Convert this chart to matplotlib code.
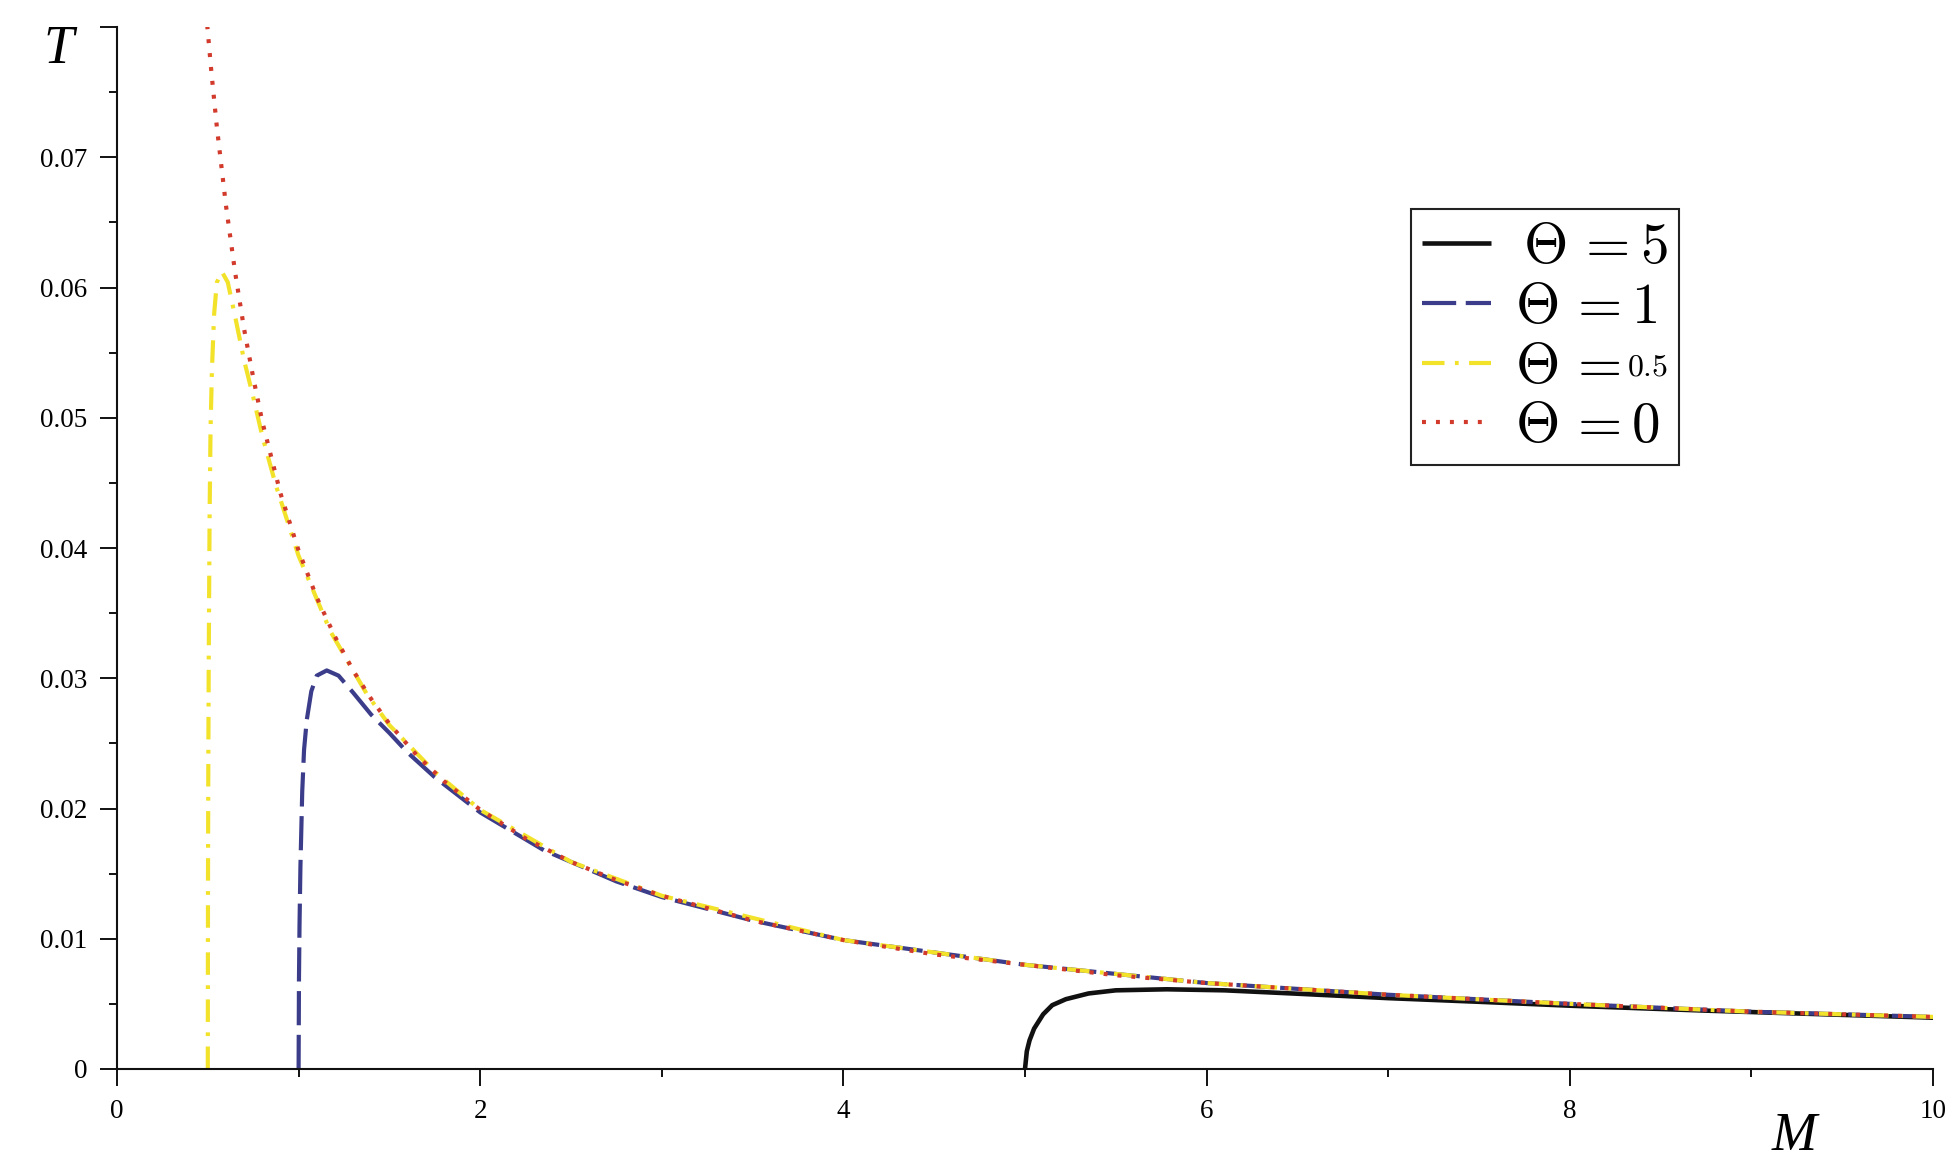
import matplotlib
matplotlib.use("Agg")
import matplotlib.pyplot as plt
from matplotlib.ticker import MultipleLocator

plt.rcParams['mathtext.fontset'] = 'cm'

# ---- data ----
M_theta5 = [5.0, 5.01, 5.025, 5.05, 5.1, 5.15, 5.225, 5.35, 5.5, 5.78, 6.1, 6.5,
            7.0, 7.5, 8.0, 8.75, 10.0]
T_theta5 = [0.0, 0.00136, 0.0022, 0.0031, 0.0042, 0.0049, 0.00536, 0.0058, 0.00604,
            0.00612, 0.00604, 0.00578, 0.00544, 0.00516, 0.00486, 0.00448, 0.00394]

M_theta1 = [1.0, 1.002, 1.005, 1.01, 1.02, 1.03, 1.045, 1.07, 1.1, 1.155, 1.22, 1.3,
            1.4, 1.5, 1.6, 1.75, 2.0, 2.35, 2.75, 3.0, 3.5, 4.0, 5.0, 6.0, 7.0, 8.0,
            9.0, 10.0]
T_theta1 = [0.0, 0.0068, 0.0110, 0.0155, 0.0213, 0.0245, 0.0268, 0.0290, 0.0302,
            0.0306, 0.0302, 0.0289, 0.0272, 0.0258, 0.0243, 0.0224, 0.0197, 0.0168,
            0.0144, 0.0132, 0.0114, 0.0099, 0.0080, 0.0066, 0.0057, 0.0050, 0.0044,
            0.0040]

M_theta05 = [0.5, 0.501, 0.5025, 0.505, 0.51, 0.515, 0.5225, 0.535, 0.55, 0.578,
             0.61, 0.65, 0.7, 0.75, 0.8, 0.875, 1.0, 1.175, 1.375, 1.5, 1.75, 2.0,
             2.5, 3.0, 4.0, 5.0, 6.0, 7.0, 8.0, 9.0, 10.0]
T_theta05 = [0.0, 0.0136, 0.022, 0.031, 0.0426, 0.049, 0.0536, 0.058, 0.0604, 0.0612,
             0.0604, 0.0578, 0.0544, 0.0516, 0.0486, 0.0448, 0.0394, 0.0336, 0.0288,
             0.0264, 0.0228, 0.0199, 0.0159, 0.0133, 0.0099, 0.0080, 0.0066, 0.0057,
             0.0050, 0.0044, 0.0040]

M_theta0 = [0.49, 0.52, 0.55, 0.6, 0.65, 0.7, 0.75, 0.8, 0.9, 1.0, 1.1, 1.2, 1.3, 1.4,
            1.5, 1.65, 1.8, 2.0, 2.25, 2.5, 2.75, 3.0, 3.5, 4.0, 4.5, 5.0, 5.5, 6.0,
            7.0, 8.0, 9.0, 10.0]
T_theta0 = [0.0812, 0.0765, 0.0723, 0.0663, 0.0612, 0.0568, 0.0531, 0.0497, 0.0442,
            0.0398, 0.0362, 0.0332, 0.0306, 0.0284, 0.0265, 0.0241, 0.0221, 0.0199,
            0.0177, 0.0159, 0.0145, 0.0133, 0.0114, 0.0099, 0.0088, 0.0080, 0.0072,
            0.0066, 0.0057, 0.0050, 0.0044, 0.0040]

x_major = [0, 2, 4, 6, 8, 10]
x_labels = ['0', '2', '4', '6', '8', '10']
y_major = [0, 0.01, 0.02, 0.03, 0.04, 0.05, 0.06, 0.07, 0.08]
y_labels = ['0', '0.01', '0.02', '0.03', '0.04', '0.05', '0.06', '0.07', '']

labels = [r'$\,\Theta\,= 5$', r'$\Theta\,= 1$', r'$\Theta\,=\qquad\;$',
          r'$\Theta\,= 0$']
small_value = '0.5'

# ---- figure ----
W, H = 1958, 1168
fig = plt.figure(figsize=(W / 100, H / 100), dpi=100)
ax = fig.add_axes([117 / W, 1 - 1069 / H, (1933 - 117) / W, (1069 - 27) / H])
ax.set_xlim(0, 10)
ax.set_ylim(0, 0.08)

lw = 3.0
l5, = ax.plot(M_theta5, T_theta5, color='#111111', lw=3.3, solid_capstyle='butt')
l1, = ax.plot(M_theta1, T_theta1, color='#3b3d8a', lw=lw, dashes=(8.2, 2.3),
              dash_capstyle='butt')
l05, = ax.plot(M_theta05, T_theta05, color='#f3e22a', lw=lw,
               dashes=(5.4, 2.5, 0.9, 2.5), dash_capstyle='butt')
l0, = ax.plot(M_theta0, T_theta0, color='#d23a2c', lw=lw, dashes=(0.95, 2.4),
              dash_capstyle='butt')

for s in ['top', 'right']:
    ax.spines[s].set_visible(False)
for s in ['left', 'bottom']:
    ax.spines[s].set_linewidth(1.5)
    ax.spines[s].set_color('#111111')

ax.set_xticks(x_major, x_labels)
ax.set_yticks(y_major, y_labels)
ax.xaxis.set_minor_locator(MultipleLocator(1))
ax.yaxis.set_minor_locator(MultipleLocator(0.005))
ax.tick_params(which='major', length=12.5, width=1.4, color='#111111', pad=9,
               labelsize=19.5)
ax.tick_params(which='minor', length=5.8, width=1.4, color='#111111')
for t in ax.get_xticklabels() + ax.get_yticklabels():
    t.set_fontfamily('Liberation Serif')

fig.text(43 / W, 1 - 63 / H, 'T', fontfamily='Liberation Serif', style='italic',
         fontsize=39, va='baseline', ha='left')
fig.text(1772 / W, 1 - 1150 / H, 'M', fontfamily='Liberation Serif', style='italic',
         fontsize=39, va='baseline', ha='left')

LFS = 41
leg = fig.legend([l5, l1, l05, l0], labels, loc='upper left',
                 bbox_to_anchor=(1411 / W, 1 - 209 / H), borderaxespad=0,
                 fontsize=LFS, frameon=True, fancybox=False, framealpha=1,
                 edgecolor='#222222', handlelength=1.2, handletextpad=0.42,
                 labelspacing=0.08, borderpad=0.2)
leg.get_frame().set_linewidth(1.5)

fig.canvas.draw()
r = fig.canvas.get_renderer()
bb = leg.get_texts()[2].get_window_extent(r)
tmp = fig.text(0, 0.5, r'$\Theta\,=$', fontsize=LFS, va='baseline', ha='left')
ext = tmp.get_window_extent(r)
base_off = 0.5 * H - ext.y0
w_eq = ext.width
tmp.remove()
fig.text((bb.x0 + w_eq + 7) / W, (bb.y0 + base_off + 7) / H, '$' + small_value + '$',
         fontsize=23, va='baseline', ha='left', zorder=10)

fig.savefig('out.png', dpi=100)
